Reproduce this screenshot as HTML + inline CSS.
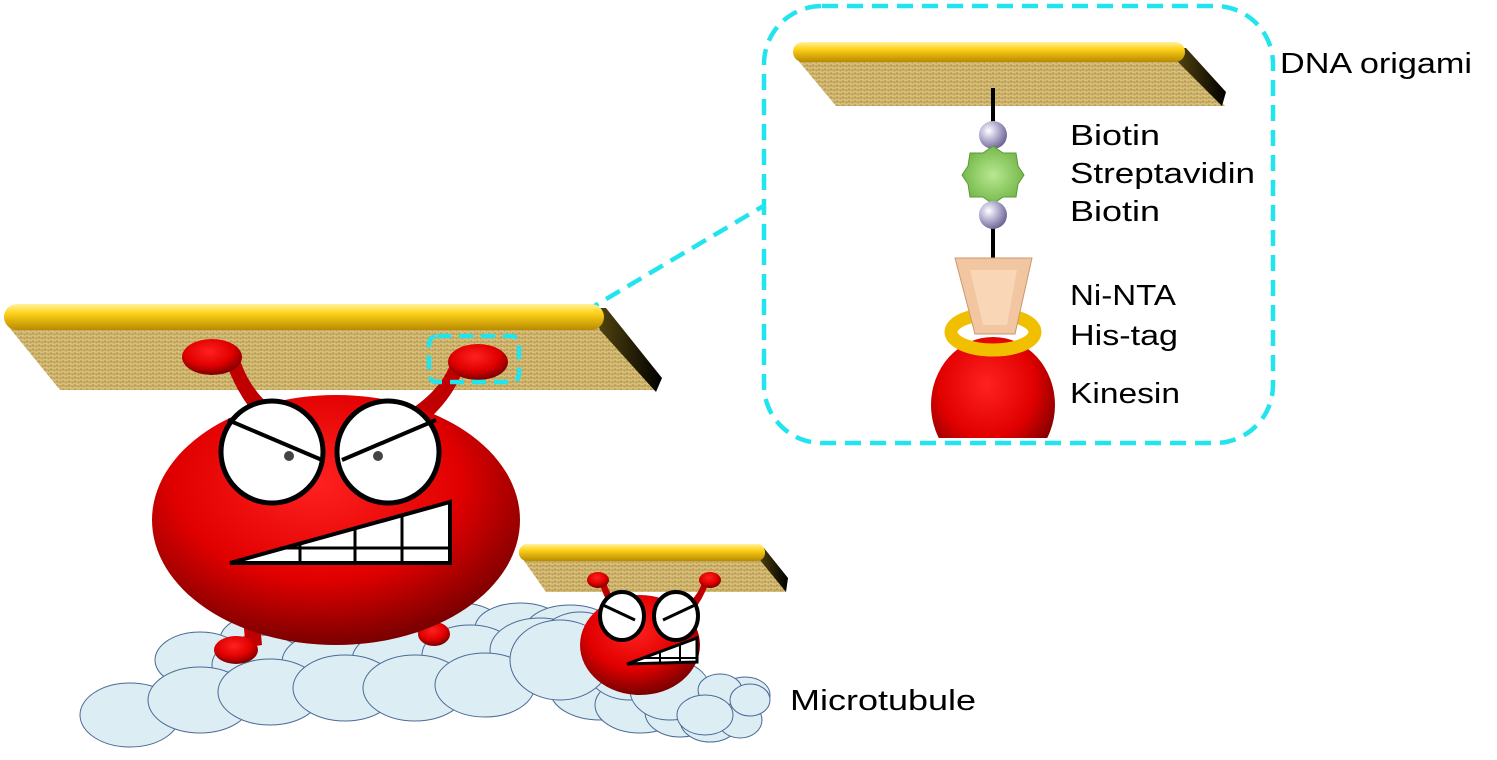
<!DOCTYPE html>
<html><head><meta charset="utf-8"><style>
html,body{margin:0;padding:0;background:#fff;}
svg{display:block;}
text{font-family:"Liberation Sans",sans-serif;fill:#000;}
</style></head><body>
<svg width="1497" height="760" viewBox="0 0 1497 760" xmlns="http://www.w3.org/2000/svg">
<defs>
<linearGradient id="gold" x1="0" y1="0" x2="0" y2="1">
<stop offset="0" stop-color="#fff2a0"/><stop offset="0.35" stop-color="#ffd21a"/><stop offset="1" stop-color="#b88a00"/></linearGradient>
<linearGradient id="side" x1="0" y1="0" x2="1" y2="0">
<stop offset="0" stop-color="#5a4a10"/><stop offset="1" stop-color="#000"/></linearGradient>
<pattern id="mesh" width="6" height="4" patternUnits="userSpaceOnUse">
<rect width="6" height="4" fill="#d9c07a"/><path d="M0 2H6M3 0V2M0 2V4" stroke="#a88a40" stroke-width="0.8"/></pattern>
<radialGradient id="red" cx="0.45" cy="0.35" r="0.65">
<stop offset="0" stop-color="#ff2020"/><stop offset="0.6" stop-color="#e00000"/><stop offset="1" stop-color="#7a0000"/></radialGradient>
<radialGradient id="sph" cx="0.35" cy="0.35" r="0.7">
<stop offset="0" stop-color="#fff"/><stop offset="0.5" stop-color="#b4aed0"/><stop offset="1" stop-color="#6a6290"/></radialGradient>
<radialGradient id="grn" cx="0.5" cy="0.5" r="0.6">
<stop offset="0" stop-color="#b8e890"/><stop offset="1" stop-color="#6ab040"/></radialGradient>
<clipPath id="inclip"><rect x="900" y="300" width="200" height="138"/></clipPath>
</defs>

<rect x="764" y="6" width="509" height="437" rx="58" fill="none" stroke="#22e4ee" stroke-width="4.5" stroke-dasharray="16,9"/>
<line x1="520" y1="350" x2="765" y2="205" stroke="#22e4ee" stroke-width="4.5" stroke-dasharray="16,9"/>

<polygon points="796,58 1180,58 1225,106 836,106" fill="url(#mesh)"/>
<polygon points="1172,48 1186,48 1226,92 1222,106 1178,62" fill="url(#side)"/>
<rect x="793" y="42" width="392" height="20" rx="10" fill="url(#gold)"/>
<line x1="993" y1="88" x2="993" y2="262" stroke="#000" stroke-width="4"/>
<circle cx="993" cy="135" r="14" fill="url(#sph)"/>
<polygon points="993,146 1003,153 1016,153 1018,166 1024,175 1018,184 1016,197 1003,197 993,204 983,197 970,197 968,184 962,175 968,166 970,153 983,153" fill="url(#grn)" stroke="#5a9a30" stroke-width="1"/>
<circle cx="993" cy="215" r="14" fill="url(#sph)"/>
<g clip-path="url(#inclip)"><ellipse cx="993" cy="405" rx="62" ry="68" fill="url(#red)"/></g>
<ellipse cx="993" cy="332" rx="42" ry="18" fill="none" stroke="#f0c000" stroke-width="13"/>
<polygon points="955,258 1032,258 1015,334 975,334" fill="#f2c6a0" stroke="#c89870" stroke-width="1"/>
<polygon points="970,270 1017,270 1007,325 983,325" fill="#f8d6b6"/>

<text x="1280" y="73" font-size="29" textLength="192" lengthAdjust="spacingAndGlyphs">DNA origami</text>
<text x="1070" y="145" font-size="29" textLength="90" lengthAdjust="spacingAndGlyphs">Biotin</text>
<text x="1070" y="183" font-size="29" textLength="185" lengthAdjust="spacingAndGlyphs">Streptavidin</text>
<text x="1070" y="221" font-size="29" textLength="90" lengthAdjust="spacingAndGlyphs">Biotin</text>
<text x="1070" y="305" font-size="29" textLength="106" lengthAdjust="spacingAndGlyphs">Ni-NTA</text>
<text x="1070" y="345" font-size="29" textLength="108" lengthAdjust="spacingAndGlyphs">His-tag</text>
<text x="1070" y="403" font-size="29" textLength="110" lengthAdjust="spacingAndGlyphs">Kinesin</text>
<text x="790" y="710" font-size="29" textLength="186" lengthAdjust="spacingAndGlyphs">Microtubule</text>

<polygon points="8,326 600,326 656,390 60,390" fill="url(#mesh)"/>
<polygon points="592,308 606,308 662,378 656,392 600,330" fill="url(#side)"/>
<rect x="4" y="304" width="600" height="26" rx="13" fill="url(#gold)"/>

<path d="M225,360 Q235,390 255,415 L275,410 Q250,390 240,360 Z" fill="#c00000"/>
<ellipse cx="212" cy="357" rx="30" ry="18" fill="url(#red)"/>
<path d="M465,365 Q455,395 430,418 L410,410 Q440,390 450,365 Z" fill="#c00000"/>
<ellipse cx="478" cy="362" rx="30" ry="18" fill="url(#red)"/>

<g fill="#dcedf4" stroke="#4a6a96" stroke-width="1">
<ellipse cx="260" cy="640" rx="40" ry="25"/><ellipse cx="320" cy="635" rx="45" ry="27"/><ellipse cx="390" cy="632" rx="45" ry="27"/><ellipse cx="460" cy="630" rx="45" ry="27"/><ellipse cx="520" cy="628" rx="45" ry="25"/><ellipse cx="570" cy="630" rx="45" ry="25"/>
<ellipse cx="200" cy="660" rx="45" ry="28"/><ellipse cx="260" cy="665" rx="48" ry="30"/><ellipse cx="330" cy="662" rx="48" ry="30"/><ellipse cx="400" cy="660" rx="48" ry="30"/><ellipse cx="470" cy="655" rx="48" ry="30"/><ellipse cx="540" cy="650" rx="50" ry="32"/>
<ellipse cx="600" cy="690" rx="50" ry="30"/><ellipse cx="640" cy="705" rx="45" ry="28"/><ellipse cx="680" cy="712" rx="35" ry="25"/><ellipse cx="720" cy="705" rx="30" ry="22"/><ellipse cx="745" cy="695" rx="25" ry="18"/>
<ellipse cx="580" cy="650" rx="45" ry="38"/><ellipse cx="630" cy="665" rx="45" ry="35"/><ellipse cx="670" cy="690" rx="40" ry="30"/><ellipse cx="710" cy="720" rx="30" ry="22"/><ellipse cx="740" cy="720" rx="22" ry="18"/>
<ellipse cx="130" cy="715" rx="50" ry="32"/><ellipse cx="200" cy="700" rx="52" ry="33"/><ellipse cx="270" cy="692" rx="52" ry="33"/><ellipse cx="345" cy="688" rx="52" ry="33"/><ellipse cx="415" cy="688" rx="52" ry="33"/><ellipse cx="485" cy="685" rx="50" ry="32"/>
<ellipse cx="560" cy="660" rx="50" ry="40"/><ellipse cx="640" cy="650" rx="45" ry="40"/>
</g>

<polygon points="522,558 760,558 786,592 546,592" fill="url(#mesh)"/>
<polygon points="754,548 764,548 788,578 786,592 760,560" fill="url(#side)"/>
<rect x="519" y="544" width="246" height="17" rx="8" fill="url(#gold)"/>
<path d="M600,585 Q605,600 612,610 L620,606 Q610,595 606,583Z" fill="#c00000"/>
<path d="M708,585 Q702,600 694,610 L686,606 Q698,595 702,583Z" fill="#c00000"/>
<ellipse cx="598" cy="580" rx="11" ry="8" fill="url(#red)"/>
<ellipse cx="710" cy="580" rx="11" ry="8" fill="url(#red)"/>
<ellipse cx="640" cy="645" rx="60" ry="50" fill="url(#red)"/>
<ellipse cx="622" cy="616" rx="22" ry="24" fill="#fff" stroke="#000" stroke-width="4"/>
<ellipse cx="676" cy="616" rx="22" ry="24" fill="#fff" stroke="#000" stroke-width="4"/>
<line x1="603" y1="605" x2="635" y2="620" stroke="#000" stroke-width="3"/>
<line x1="695" y1="605" x2="663" y2="620" stroke="#000" stroke-width="3"/>
<polygon points="627,664 697,638 697,662" fill="#fff" stroke="#000" stroke-width="3"/>
<path d="M660,652V663M680,645V663M645,658H697" stroke="#000" stroke-width="2"/>
<g fill="#dcedf4" stroke="#4a6a96" stroke-width="1">
<ellipse cx="720" cy="690" rx="22" ry="16"/><ellipse cx="750" cy="700" rx="20" ry="16"/><ellipse cx="705" cy="715" rx="28" ry="20"/>
</g>

<path d="M238,600 Q245,620 245,648 L262,645 Q260,620 255,598Z" fill="#c00000"/>
<ellipse cx="236" cy="650" rx="22" ry="14" fill="url(#red)"/>
<ellipse cx="434" cy="634" rx="16" ry="12" fill="url(#red)"/>
<ellipse cx="336" cy="520" rx="184" ry="125" fill="url(#red)"/>
<circle cx="272" cy="452" r="51" fill="#fff" stroke="#000" stroke-width="5"/>
<circle cx="388" cy="452" r="51" fill="#fff" stroke="#000" stroke-width="5"/>
<line x1="228" y1="420" x2="322" y2="460" stroke="#000" stroke-width="4"/>
<line x1="436" y1="420" x2="342" y2="460" stroke="#000" stroke-width="4"/>
<circle cx="289" cy="456" r="5" fill="#444"/><circle cx="378" cy="456" r="5" fill="#444"/>
<polygon points="230,563 450,502 450,563" fill="#fff" stroke="#000" stroke-width="4"/>
<path d="M300,545V563M355,530V563M402,516V563M280,548H450" stroke="#000" stroke-width="3"/>

<rect x="429" y="336" width="90" height="46" rx="8" fill="none" stroke="#22e4ee" stroke-width="4.5" stroke-dasharray="14,8"/>
</svg>
</body></html>
